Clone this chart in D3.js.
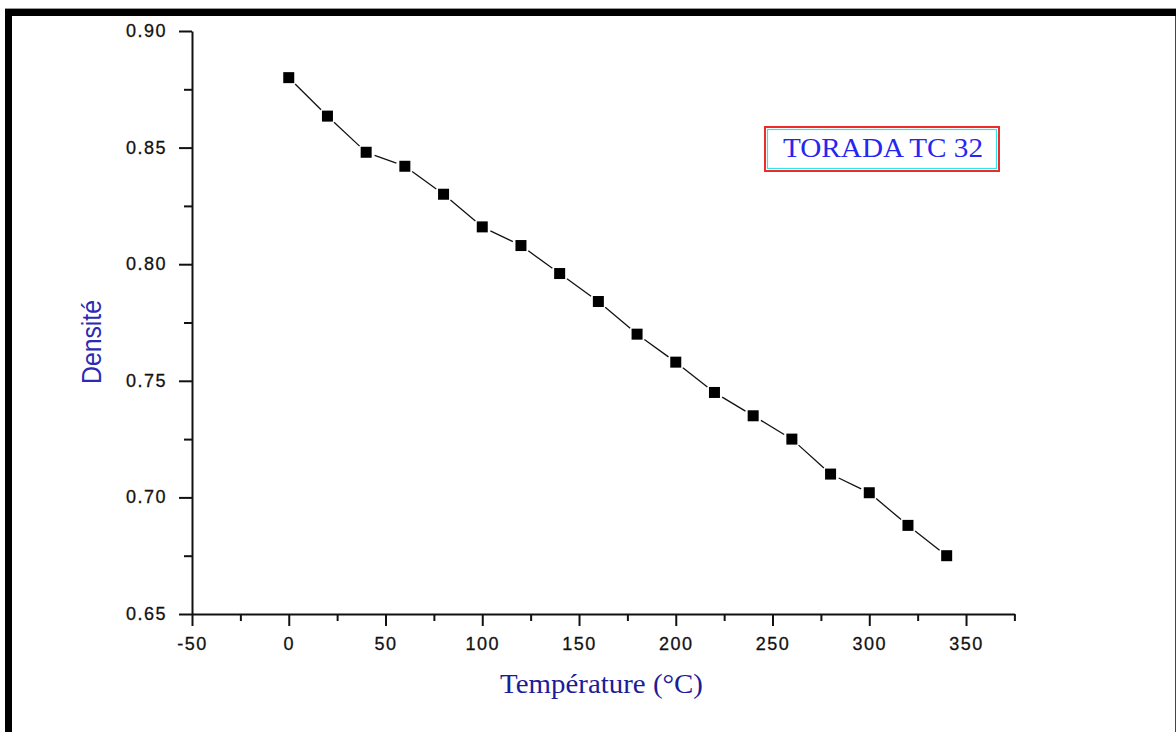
<!DOCTYPE html>
<html>
<head>
<meta charset="utf-8">
<script src="https://cdn.jsdelivr.net/npm/d3@7/dist/d3.min.js"></script>
<style>
  html, body { margin: 0; padding: 0; background: #fff; }
  svg { display: block; }
</style>
</head>
<body>
<svg id="chart" width="1176" height="732"></svg>
<script>
// ---- data ----
const temperatures = [0, 20, 40, 60, 80, 100, 120, 140, 160, 180, 200, 220, 240, 260, 280, 300, 320, 340];
const densities    = [0.880, 0.8635, 0.848, 0.842, 0.830, 0.816, 0.808, 0.796, 0.784, 0.770, 0.758, 0.745, 0.735, 0.725, 0.710, 0.702, 0.688, 0.675];
const xMajorTicks = [-50, 0, 50, 100, 150, 200, 250, 300, 350];
const xMinorTicks = [-25, 25, 75, 125, 175, 225, 275, 325, 375];
const yMajorTicks = [0.65, 0.70, 0.75, 0.80, 0.85, 0.90];
const yMinorTicks = [0.675, 0.725, 0.775, 0.825, 0.875];
const seriesName = "TORADA TC 32";
const xTitle = "Température (°C)";
const yTitle = "Densité";

const svg = d3.select("#chart");

// ---- frame ----
svg.append("rect").attr("x", 0).attr("y", 0).attr("width", 1176).attr("height", 732).attr("fill", "#fff");
svg.append("line").attr("x1", 5).attr("x2", 1176).attr("y1", 8.5).attr("y2", 8.5).attr("stroke", "#9a9a9a").attr("stroke-width", 1);
svg.append("rect").attr("x", 5).attr("y", 9).attr("width", 1171).attr("height", 7).attr("fill", "#000");
svg.append("rect").attr("x", 5).attr("y", 9).attr("width", 7).attr("height", 723).attr("fill", "#000");
svg.append("line").attr("x1", 1175.5).attr("x2", 1175.5).attr("y1", 16).attr("y2", 732).attr("stroke", "#444").attr("stroke-width", 1);

// ---- scales ----
const x = d3.scaleLinear().domain([-50, 375]).range([192, 1014.4]);
const y = d3.scaleLinear().domain([0.65, 0.90]).range([614, 31]);

const tickFont = "Liberation Sans, Arial, sans-serif";

// ---- x axis ----
const xAxisG = svg.append("g").attr("transform", `translate(0,${y(0.65)})`);
xAxisG.call(d3.axisBottom(x).tickValues(xMajorTicks).tickSize(12).tickSizeOuter(0).tickPadding(11).tickFormat(d => String(d)));
const xMinorG = svg.append("g").attr("transform", `translate(0,${y(0.65)})`);
xMinorG.call(d3.axisBottom(x).tickValues(xMinorTicks).tickSize(7).tickSizeOuter(0).tickFormat(""));
xMinorG.select(".domain").remove();

// ---- y axis ----
const yAxisG = svg.append("g").attr("transform", `translate(${x(-50)},0)`);
yAxisG.call(d3.axisLeft(y).tickValues(yMajorTicks).tickSize(13).tickSizeOuter(0).tickPadding(12).tickFormat(d => d.toFixed(2)));
const yMinorG = svg.append("g").attr("transform", `translate(${x(-50)},0)`);
yMinorG.call(d3.axisLeft(y).tickValues(yMinorTicks).tickSize(8).tickSizeOuter(0).tickFormat(""));
yMinorG.select(".domain").remove();

svg.selectAll(".domain").attr("stroke", "#111").attr("stroke-width", 2);
svg.selectAll(".tick line").attr("stroke", "#111").attr("stroke-width", 2);
svg.selectAll(".tick text")
  .attr("font-family", tickFont)
  .attr("font-size", 18)
  .attr("letter-spacing", "1.5px")
  .attr("stroke", "#111").attr("stroke-width", 0.3)
  .attr("fill", "#111");
yAxisG.selectAll(".tick text").attr("dy", "0.30em");

// ---- line segments with gaps around markers ----
const pts = temperatures.map((t, i) => [x(t), y(densities[i])]);
const gap = 9;
const segs = d3.pairs(pts).map(([a, b]) => {
  const dx = b[0] - a[0], dy = b[1] - a[1];
  const L = Math.hypot(dx, dy);
  const ux = dx / L, uy = dy / L;
  return [[a[0] + ux * gap, a[1] + uy * gap], [b[0] - ux * gap, b[1] - uy * gap]];
});
svg.append("g").selectAll("line").data(segs).join("line")
  .attr("x1", d => d[0][0]).attr("y1", d => d[0][1])
  .attr("x2", d => d[1][0]).attr("y2", d => d[1][1])
  .attr("stroke", "#111").attr("stroke-width", 1.3);

// ---- markers ----
const ms = 11;
svg.append("g").selectAll("rect").data(temperatures).join("rect")
  .attr("x", (d) => x(d) - ms / 2)
  .attr("y", (d, i) => y(densities[i]) - ms / 2)
  .attr("width", ms).attr("height", ms)
  .attr("fill", "#000");

// ---- legend box ----
const lg = svg.append("g");
lg.append("rect").attr("x", 765).attr("y", 127).attr("width", 234).attr("height", 44)
  .attr("fill", "#fff").attr("stroke", "#ee2a2a").attr("stroke-width", 2);
lg.append("rect").attr("x", 767.5).attr("y", 129.5).attr("width", 229).attr("height", 39)
  .attr("fill", "none").attr("stroke", "#33e6e6").attr("stroke-width", 1.2);
lg.append("text").attr("x", 783).attr("y", 157)
  .attr("font-family", "Liberation Serif, Times New Roman, serif")
  .attr("font-size", 28)
  .attr("textLength", 200).attr("lengthAdjust", "spacingAndGlyphs")
  .attr("fill", "#2626f0")
  .text(seriesName);

// ---- axis titles ----
svg.append("text").attr("x", 500).attr("y", 693)
  .attr("font-family", "Liberation Serif, Times New Roman, serif")
  .attr("font-size", 28)
  .attr("textLength", 203).attr("lengthAdjust", "spacingAndGlyphs")
  .attr("fill", "#1c1c98")
  .text(xTitle);

svg.append("text")
  .attr("transform", "translate(101,384) rotate(-90)")
  .attr("font-family", "Liberation Sans, Arial, sans-serif")
  .attr("font-size", 27)
  .attr("textLength", 84).attr("lengthAdjust", "spacingAndGlyphs")
  .attr("fill", "#2a2ab4")
  .text(yTitle);
</script>
</body>
</html>
